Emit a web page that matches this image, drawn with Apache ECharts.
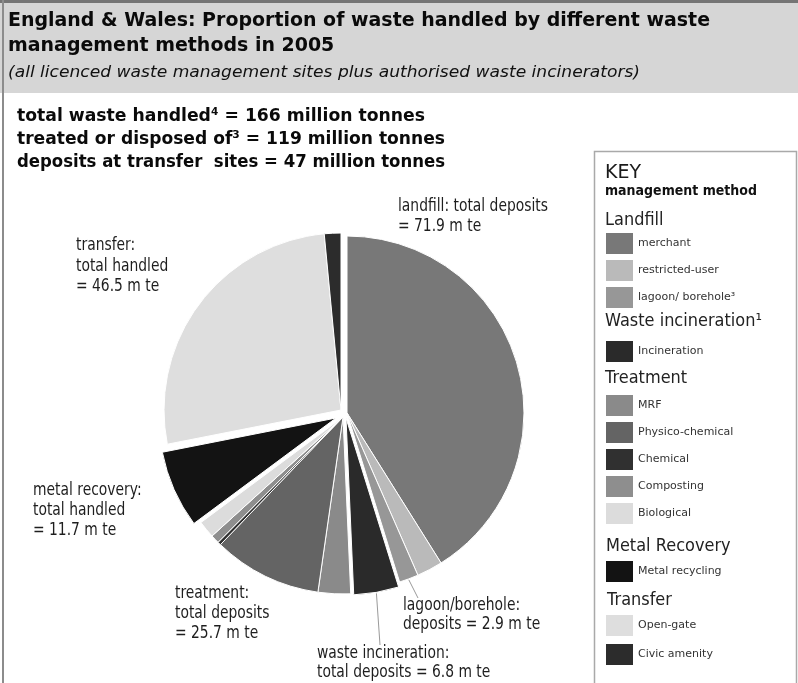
<!DOCTYPE html>
<html>
<head>
<meta charset="utf-8">
<script src="https://cdn.jsdelivr.net/npm/echarts@6/dist/echarts.min.js"></script>
<style>
  html, body { margin: 0; padding: 0; background: #fff; }
  #chart { width: 798px; height: 683px; }
</style>
</head>
<body>
<div id="chart"></div>
<script>
// Waste handled by management method, England & Wales 2005 (million tonnes)
const landfillNames = ['merchant', 'restricted-user', 'lagoon/ borehole³'];
const landfillValues = [68.0, 3.9, 2.9];
const incinerationNames = ['Incineration'];
const incinerationValues = [6.8];
const treatmentNames = ['MRF', 'Physico-chemical', 'Chemical', 'Composting', 'Biological'];
const treatmentValues = [4.9, 16.4, 0.5, 1.3, 2.6];
const metalNames = ['Metal recycling'];
const metalValues = [11.7];
const transferNames = ['Open-gate', 'Civic amenity'];
const transferValues = [44.0, 2.5];

// Slice shades
const landfillColors = ['#787878', '#bababa', '#979797'];
const incinerationColors = ['#2a2a2a'];
const treatmentColors = ['#8a8a8a', '#646464', '#303030', '#8e8e8e', '#dcdcdc'];
const metalColors = ['#131313'];
const transferColors = ['#dedede', '#2c2c2c'];

// Pie geometry: shared centre, radius, and the small outward shift of each group
const CX = 343, CY = 414, R = 177;
const groupShift = [[4, -1], [3, 4], [0, 3], [-7, 4], [-2, -4]];

const round1 = v => Math.round(v * 10) / 10;
const sum = a => round1(a.reduce((s, v) => s + v, 0));

const groups = [
  { names: landfillNames, values: landfillValues, colors: landfillColors },
  { names: incinerationNames, values: incinerationValues, colors: incinerationColors },
  { names: treatmentNames, values: treatmentValues, colors: treatmentColors },
  { names: metalNames, values: metalValues, colors: metalColors },
  { names: transferNames, values: transferValues, colors: transferColors }
];
const grandTotal = round1(groups.reduce((s, g) => s + sum(g.values), 0));
const transferTotal = sum(transferValues);
const landfillDeposits = round1(landfillValues[0] + landfillValues[1]);

// one pie series per group, each covering its own arc of the full circle
let acc = 0;
const series = groups.map((g, gi) => {
  const a0 = acc / grandTotal * 360;
  acc += sum(g.values);
  const a1 = acc / grandTotal * 360;
  g.a0 = a0;
  g.center = [CX + groupShift[gi][0], CY + groupShift[gi][1]];
  return {
    type: 'pie',
    center: g.center,
    radius: R,
    startAngle: 90 - a0,
    endAngle: 90 - a1,
    clockwise: true,
    silent: true,
    animation: false,
    label: { show: false },
    labelLine: { show: false },
    emphasis: { disabled: true },
    itemStyle: { borderColor: '#ffffff', borderWidth: 1 },
    data: g.names.map((n, i) => ({ name: n, value: g.values[i], itemStyle: { color: g.colors[i] } }))
  };
});

// point on a slice's rim, at the middle of item i in group g
function rimPoint(g, i) {
  let before = 0;
  for (let k = 0; k < i; k++) before += g.values[k];
  const mid = (g.a0 + (before + g.values[i] / 2) / grandTotal * 360) * Math.PI / 180;
  return [g.center[0] + R * Math.sin(mid), g.center[1] - R * Math.cos(mid)];
}

// text helpers
const mctx = document.createElement('canvas').getContext('2d');
function textWidth(str, font) { mctx.font = font; return mctx.measureText(str).width; }
function fontOf(o) {
  return `${o.style || 'normal'} ${o.weight || 'normal'} ${o.size}px ${o.family || 'DejaVu Sans'}`;
}
// lines sharing one font; fitWidth squeezes to a width (a single number or one per line)
function textBlock(lines, x, baseline, gap, o) {
  const font = fontOf(o);
  return lines.map((s, i) => {
    let sx = o.scale || 1;
    if (Array.isArray(o.fitWidth)) sx = o.fitWidth[i] / textWidth(s, font);
    else if (o.fitWidth) sx = o.fitWidth / textWidth(lines[o.fitLine || 0], font);
    return {
      type: 'text', x: x, y: baseline + i * gap - 0.35 * o.size, scaleX: sx, silent: true, z: 20,
      style: { text: s, font: font, fill: o.color || '#111', verticalAlign: 'middle', align: 'left' }
    };
  });
}

const labelFont = { size: 17, color: '#1e1e1e' };
labelFont.scale = 150 / textWidth('landfill: total deposits', fontOf(labelFont));
const headFont = { size: 17, color: '#222', scale: 0.95 };

const lagoonPt = rimPoint(groups[0], 2);
const incinPt = rimPoint(groups[1], 0);

const graphic = [
  // frame and heading band
  { type: 'rect', shape: { x: 0, y: 0, width: 798, height: 93 }, style: { fill: '#d6d6d6' }, silent: true, z: 1 },
  { type: 'rect', shape: { x: 0, y: 0, width: 798, height: 3 }, style: { fill: '#757575' }, silent: true, z: 2 },
  { type: 'rect', shape: { x: 2, y: 0, width: 2, height: 683 }, style: { fill: '#8c8c8c' }, silent: true, z: 2 },
  // key box
  { type: 'rect', shape: { x: 594.5, y: 151.5, width: 202, height: 545 }, style: { fill: 'none', stroke: '#a9a9a9', lineWidth: 1.5 }, silent: true, z: 2 },

  ...textBlock(['England & Wales: Proportion of waste handled by different waste', 'management methods in 2005'],
    8, 28, 25, { size: 20, weight: 'bold', fitWidth: 702, color: '#0a0a0a' }),
  ...textBlock(['(all licenced waste management sites plus authorised waste incinerators)'],
    8, 78, 0, { size: 16, style: 'italic', fitWidth: 632, color: '#111' }),

  ...textBlock([
    `total waste handled⁴ = ${Math.round(grandTotal)} million tonnes`,
    `treated or disposed of³ = ${Math.round(grandTotal - transferTotal)} million tonnes`,
    `deposits at transfer  sites = ${Math.round(transferTotal)} million tonnes`
  ], 17, 123, 23, { size: 18, weight: 'bold', fitWidth: [408, 428, 428], color: '#0a0a0a' }),

  // pie labels
  ...textBlock(['landfill: total deposits', `= ${landfillDeposits.toFixed(1)} m te`], 398, 213, 20, labelFont),
  ...textBlock(['transfer:', 'total handled', `= ${transferTotal.toFixed(1)} m te`], 76, 252, 20.5, labelFont),
  ...textBlock(['metal recovery:', 'total handled', `= ${sum(metalValues).toFixed(1)} m te`], 33, 497, 20, labelFont),
  ...textBlock(['treatment:', 'total deposits', `= ${sum(treatmentValues).toFixed(1)} m te`], 175, 600, 20, labelFont),
  ...textBlock(['lagoon/borehole:', `deposits = ${landfillValues[2].toFixed(1)} m te`], 403, 612, 18.5, labelFont),
  ...textBlock(['waste incineration:', `total deposits = ${sum(incinerationValues).toFixed(1)} m te`], 317, 660, 18.5, labelFont),

  // leader lines for the two thin groups
  { type: 'line', shape: { x1: lagoonPt[0], y1: lagoonPt[1] + 1, x2: 418, y2: 598 }, style: { stroke: '#9a9a9a', lineWidth: 1 }, silent: true, z: 15 },
  { type: 'line', shape: { x1: incinPt[0], y1: incinPt[1] + 1, x2: 380, y2: 645 }, style: { stroke: '#9a9a9a', lineWidth: 1 }, silent: true, z: 15 },

  // key headings
  ...textBlock(['KEY'], 605, 180, 0, { size: 19, color: '#1a1a1a' }),
  ...textBlock(['management method'], 605, 196, 0, { size: 14.5, weight: 'bold', fitWidth: 152, color: '#111' }),
  ...textBlock(['Landfill'], 605, 227, 0, headFont),
  ...textBlock(['Waste incineration¹'], 605, 328, 0, headFont),
  ...textBlock(['Treatment'], 605, 385, 0, headFont),
  ...textBlock(['Metal Recovery'], 606, 553, 0, headFont),
  ...textBlock(['Transfer'], 607, 607, 0, headFont)
];

function keyLegend(names, colors, top, gap) {
  return {
    orient: 'vertical', left: 606, top: top, padding: 0,
    itemWidth: 27, itemHeight: 21, itemGap: gap, icon: 'rect',
    selectedMode: false,
    textStyle: { fontFamily: 'DejaVu Sans', fontSize: 11, color: '#333' },
    data: names.map((n, i) => ({ name: n, itemStyle: { color: colors[i], borderWidth: 0 } }))
  };
}

const chart = echarts.init(document.getElementById('chart'), null, { renderer: 'canvas' });
chart.setOption({
  backgroundColor: '#ffffff',
  animation: false,
  legend: [
    keyLegend(landfillNames, landfillColors, 233, 6),
    keyLegend(incinerationNames, incinerationColors, 341, 6),
    keyLegend(treatmentNames, treatmentColors, 395, 6),
    keyLegend(metalNames, metalColors, 561, 6),
    keyLegend(transferNames, transferColors, 615, 8)
  ],
  graphic: graphic,
  series: series
});
</script>
</body>
</html>
